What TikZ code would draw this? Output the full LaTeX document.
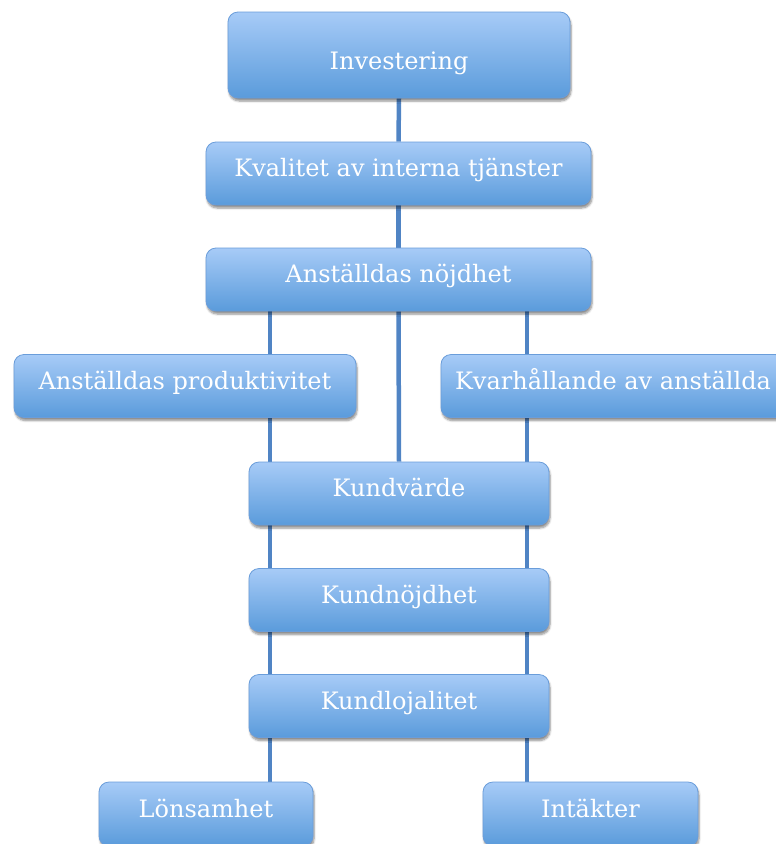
\documentclass[tikz,border=0pt]{standalone}
\usepackage{fontspec}
\setmainfont{DejaVu Serif}
\usetikzlibrary{backgrounds,shadows.blur}
\definecolor{boxTop}{HTML}{A7CBF7}
\definecolor{boxBot}{HTML}{5A9BDB}
\definecolor{boxEdge}{HTML}{6A9DDA}
\definecolor{linkBlue}{HTML}{5084C4}
\tikzset{
  stage/.style={rounded corners=10pt, draw=boxEdge, line width=0.8pt,
              top color=boxTop, bottom color=boxBot, text=white,
              font=\fontsize{24}{28}\selectfont, minimum height=63pt,
              inner sep=0pt, text height=12pt, text depth=6pt,
              blur shadow={shadow xshift=1pt, shadow yshift=-3pt,
                           shadow blur steps=6, shadow opacity=45}},
  link/.style={draw=linkBlue, line width=4.5pt},
}

\begin{document}
\begin{tikzpicture}[x=1pt,y=-1pt]
  \useasboundingbox (0,0) rectangle (776,844);
  % the chain
  \node[stage,minimum width=342pt,minimum height=86pt,text height=28pt,text depth=0pt]
       (inv) at (399,55) {Investering};
  \node[stage,minimum width=385pt] (kval) at (398.5,173.5) {Kvalitet av interna tjänster};
  \node[stage,minimum width=385pt] (njd) at (398.5,279.5) {Anställdas nöjdhet};
  \node[stage,minimum width=342pt] (prod) at (185,386) {Anställdas produktivitet};
  \node[stage,minimum width=344pt] (kvar) at (613,386) {Kvarhållande av anställda};
  \node[stage,minimum width=300pt] (kv) at (399,493.5) {Kundvärde};
  \node[stage,minimum width=300pt] (kn) at (399,600) {Kundnöjdhet};
  \node[stage,minimum width=300pt] (kl) at (399,706) {Kundlojalitet};
  \node[stage,minimum width=214pt,minimum height=64pt] (lon) at (206,814) {Lönsamhet};
  \node[stage,minimum width=215pt,minimum height=64pt] (int) at (590.5,814) {Intäkter};
  % columns of the side links
  \coordinate (lcol) at (270,0);
  \coordinate (rcol) at (527,0);
  \begin{scope}[on background layer]
    \foreach \a/\b in {inv/kval,kval/njd,njd/kv}
      \draw[link] (\a.south) -- (\b.north);
    \foreach \a/\b in {njd/prod,prod/kv,kv/kn,kn/kl,kl/lon}
      \draw[link] (\a.south -| lcol) -- (\b.north -| lcol);
    \foreach \a/\b in {njd/kvar,kvar/kv,kv/kn,kn/kl,kl/int}
      \draw[link] (\a.south -| rcol) -- (\b.north -| rcol);
  \end{scope}
\end{tikzpicture}
\end{document}
